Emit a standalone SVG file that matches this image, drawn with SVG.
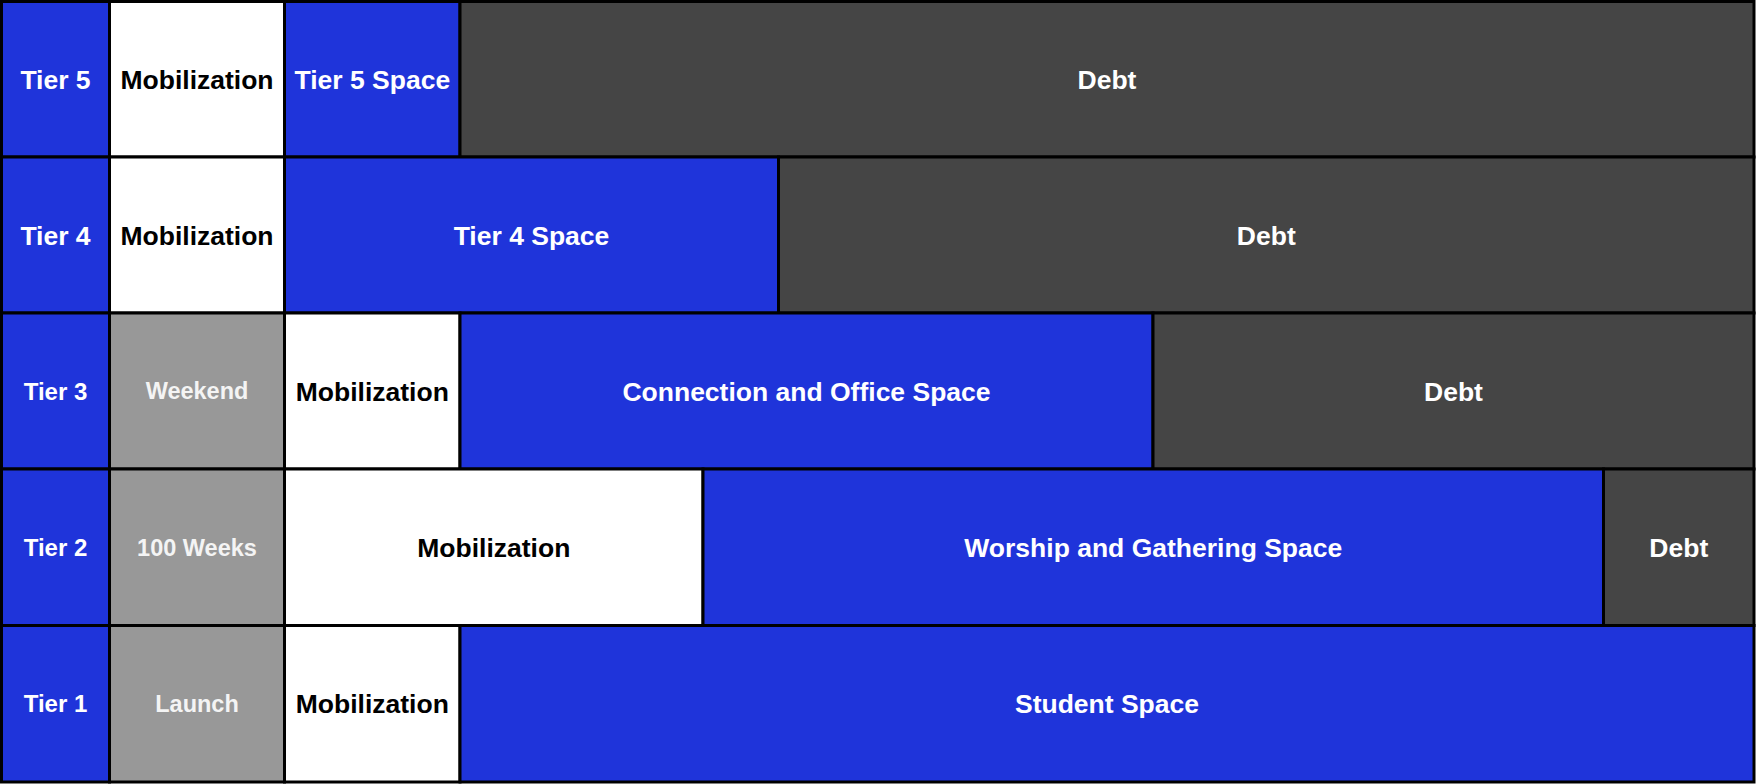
<svg xmlns="http://www.w3.org/2000/svg" width="1756" height="784" viewBox="0 0 1756 784">
<style>
rect{stroke:#000;stroke-width:3}
.b{fill:#1F34DA}.w{fill:#fff}.g{fill:#989898}.d{fill:#454545}
text{font-family:"Liberation Sans",Arial,sans-serif;font-weight:bold;text-anchor:middle;font-size:26.5px}
.tw{fill:#fff}.tk{fill:#000}.ts{font-size:24px}.tg{font-size:23.5px;fill:#f4f4f4}
</style>
<rect x="0" y="0" width="1756" height="784" fill="#fff" style="stroke:none"/>
<g id="row5">
<g id="t5"><rect class="b" x="1.5" y="1.5" width="108" height="155.5"/><text class="tw" x="55.5" y="88.8">Tier 5</text></g>
<g id="t5-mob"><rect class="w" x="109.5" y="1.5" width="175" height="155.5"/><text class="tk" x="197" y="88.8">Mobilization</text></g>
<g id="t5-space"><rect class="b" x="284.5" y="1.5" width="175.5" height="155.5"/><text class="tw" x="372.3" y="88.8">Tier 5 Space</text></g>
<g id="t5-debt"><rect class="d" x="460" y="1.5" width="1294" height="155.5"/><text class="tw" x="1107" y="88.8">Debt</text></g>
</g>
<g id="row4">
<g id="t4"><rect class="b" x="1.5" y="157" width="108" height="156"/><text class="tw" x="55.5" y="244.5">Tier 4</text></g>
<g id="t4-mob"><rect class="w" x="109.5" y="157" width="175" height="156"/><text class="tk" x="197" y="244.5">Mobilization</text></g>
<g id="t4-space"><rect class="b" x="284.5" y="157" width="494" height="156"/><text class="tw" x="531.5" y="244.5">Tier 4 Space</text></g>
<g id="t4-debt"><rect class="d" x="778.5" y="157" width="975.5" height="156"/><text class="tw" x="1266.3" y="244.5">Debt</text></g>
</g>
<g id="row3">
<g id="t3"><rect class="b" x="1.5" y="313" width="108" height="156"/><text class="tw ts" x="55.5" y="399.6">Tier 3</text></g>
<g id="t3-weekend"><rect class="g" x="109.5" y="313" width="175" height="156"/><text class="tg" x="197" y="399.4">Weekend</text></g>
<g id="t3-mob"><rect class="w" x="284.5" y="313" width="175.5" height="156"/><text class="tk" x="372.3" y="400.5">Mobilization</text></g>
<g id="t3-space"><rect class="b" x="460" y="313" width="693" height="156"/><text class="tw" x="806.5" y="400.5">Connection and Office Space</text></g>
<g id="t3-debt"><rect class="d" x="1153" y="313" width="601" height="156"/><text class="tw" x="1453.5" y="400.5">Debt</text></g>
</g>
<g id="row2">
<g id="t2"><rect class="b" x="1.5" y="469" width="108" height="156.5"/><text class="tw ts" x="55.5" y="555.8">Tier 2</text></g>
<g id="t2-weeks"><rect class="g" x="109.5" y="469" width="175" height="156.5"/><text class="tg" x="197" y="555.6">100 Weeks</text></g>
<g id="t2-mob"><rect class="w" x="284.5" y="469" width="418.5" height="156.5"/><text class="tk" x="493.8" y="556.8">Mobilization</text></g>
<g id="t2-space"><rect class="b" x="703" y="469" width="900.5" height="156.5"/><text class="tw" x="1153.3" y="556.8">Worship and Gathering Space</text></g>
<g id="t2-debt"><rect class="d" x="1603.5" y="469" width="150.5" height="156.5"/><text class="tw" x="1678.8" y="556.8">Debt</text></g>
</g>
<g id="row1">
<g id="t1"><rect class="b" x="1.5" y="625.5" width="108" height="156.5"/><text class="tw ts" x="55.5" y="712.3">Tier 1</text></g>
<g id="t1-launch"><rect class="g" x="109.5" y="625.5" width="175" height="156.5"/><text class="tg" x="197" y="712.1">Launch</text></g>
<g id="t1-mob"><rect class="w" x="284.5" y="625.5" width="175.5" height="156.5"/><text class="tk" x="372.3" y="713.3">Mobilization</text></g>
<g id="t1-space"><rect class="b" x="460" y="625.5" width="1294" height="156.5"/><text class="tw" x="1107" y="713.3">Student Space</text></g>
</g>
<g id="connectors"/>
</svg>
